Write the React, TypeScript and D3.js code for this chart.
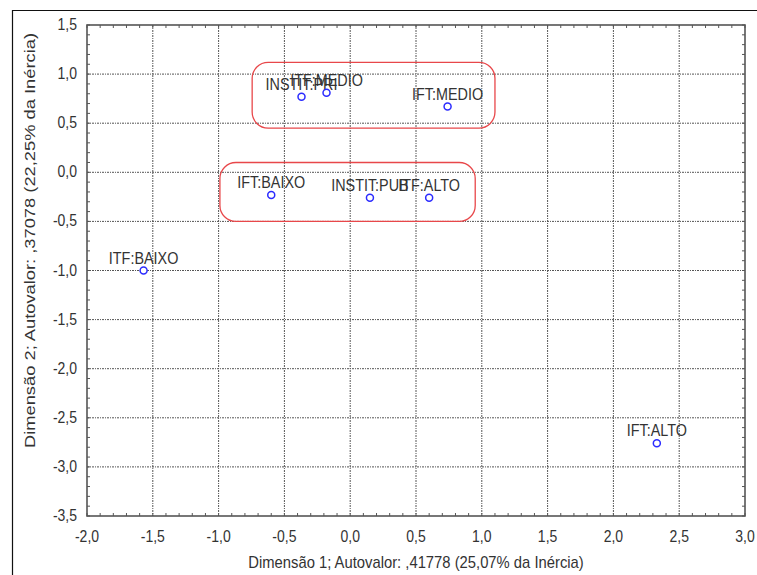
import * as d3 from "d3";

// point coordinates
const labels = ["ITF:BAIXO", "IFT:BAIXO", "INSTIT:PUB", "ITF:ALTO", "INSTIT:PRI", "ITF:MEDIO", "IFT:MEDIO", "IFT:ALTO"];
const dim1 = [-1.57, -0.6, 0.15, 0.6, -0.37, -0.18, 0.74, 2.33];
const dim2 = [-1.0, -0.23, -0.26, -0.26, 0.77, 0.81, 0.67, -2.76];

const xTicks = [-2.0, -1.5, -1.0, -0.5, 0.0, 0.5, 1.0, 1.5, 2.0, 2.5, 3.0];
const yTicks = [1.5, 1.0, 0.5, 0.0, -0.5, -1.0, -1.5, -2.0, -2.5, -3.0, -3.5];

// highlighted groups (x0, x1, y0, y1 in data units)
const groupBoxes = [
  [-0.745, 1.1, 1.12, 0.45],
  [-0.99, 0.95, 0.1, -0.5],
];

const W = 757;
const H = 575;
const margin = { top: 25, right: 12, bottom: 59, left: 87 };
const font = "'Liberation Sans', Arial, sans-serif";
const fmt = (v: number) => d3.format(".1f")(v).replace(".", ",").replace("−", "-");

// text in the reference is a little stretched vertically
function Txt({ x, y, size = 14, anchor = "middle", children }: any) {
  return (
    <text transform={`translate(${x},${y}) scale(1,1.12)`} textAnchor={anchor} fontSize={size} fill="#333">
      {children}
    </text>
  );
}

export default function App() {
  const x = d3.scaleLinear().domain([-2, 3]).range([margin.left, W - margin.right]);
  const y = d3.scaleLinear().domain([-3.5, 1.5]).range([H - margin.bottom, margin.top]);
  const [x0, x1] = x.range();
  const [y0, y1] = y.range();
  const xMinor = d3.range(-2, 3.0001, 0.1);
  const yMinor = d3.range(-3.5, 1.5001, 0.1);
  const tick = 3;

  return (
    <svg width={W} height={H} style={{ position: "absolute", left: 0, top: 0, background: "#fff" }} fontFamily={font}>
      <path d={`M12.5,${H} V10.5 H${W}`} fill="none" stroke="#111" strokeWidth={1.2} />

      {/* grid */}
      {xTicks.slice(1, -1).map((t) => (
        <line key={"gx" + t} x1={x(t)} x2={x(t)} y1={y1} y2={y0} stroke="#555" strokeWidth={1} strokeDasharray="2,1,1,1" />
      ))}
      {yTicks.slice(1, -1).map((t) => (
        <line key={"gy" + t} x1={x0} x2={x1} y1={y(t)} y2={y(t)} stroke="#555" strokeWidth={1} strokeDasharray="2,1,1,1" />
      ))}

      {/* minor ticks, inward on all sides */}
      {xMinor.map((t, i) => (
        <g key={"mx" + i} stroke="#555" strokeWidth={1}>
          <line x1={x(t)} x2={x(t)} y1={y0} y2={y0 - tick} />
          <line x1={x(t)} x2={x(t)} y1={y1} y2={y1 + tick} />
        </g>
      ))}
      {yMinor.map((t, i) => (
        <g key={"my" + i} stroke="#555" strokeWidth={1}>
          <line x1={x0} x2={x0 + tick} y1={y(t)} y2={y(t)} />
          <line x1={x1} x2={x1 - tick} y1={y(t)} y2={y(t)} />
        </g>
      ))}

      <rect x={x0} y={y1} width={x1 - x0} height={y0 - y1} fill="none" stroke="#555" strokeWidth={1.6} />

      {/* tick labels */}
      {xTicks.map((t) => (
        <Txt key={"tx" + t} x={x(t)} y={y0 + 26}>
          {fmt(t)}
        </Txt>
      ))}
      {yTicks.map((t) => (
        <Txt key={"ty" + t} x={x0 - 10} y={y(t) + 5} anchor="end">
          {fmt(t)}
        </Txt>
      ))}

      {/* axis titles */}
      <Txt x={(x0 + x1) / 2} y={H - 7} size={14.8}>
        Dimensão 1; Autovalor: ,41778 (25,07% da Inércia)
      </Txt>
      <text
        transform={`translate(35,${(y0 + y1) / 2 - 30}) rotate(-90)`}
        textAnchor="middle"
        fontSize={14}
        fill="#333"
        textLength={415}
        lengthAdjust="spacingAndGlyphs"
      >
        Dimensão 2; Autovalor: ,37078 (22,25% da Inércia)
      </text>

      {/* group boxes */}
      {groupBoxes.map((b, i) => (
        <rect
          key={"box" + i}
          x={x(b[0])}
          y={y(b[2])}
          width={x(b[1]) - x(b[0])}
          height={y(b[3]) - y(b[2])}
          rx={16}
          ry={16}
          fill="none"
          stroke="#e8474a"
          strokeWidth={1.3}
        />
      ))}

      {/* points */}
      {labels.map((l, i) => (
        <g key={l}>
          <circle cx={x(dim1[i])} cy={y(dim2[i])} r={3.5} fill="#fff" stroke="#2b2bff" strokeWidth={1.5} />
          <Txt x={x(dim1[i])} y={y(dim2[i]) - 7} size={14.4}>
            {l}
          </Txt>
        </g>
      ))}
    </svg>
  );
}
